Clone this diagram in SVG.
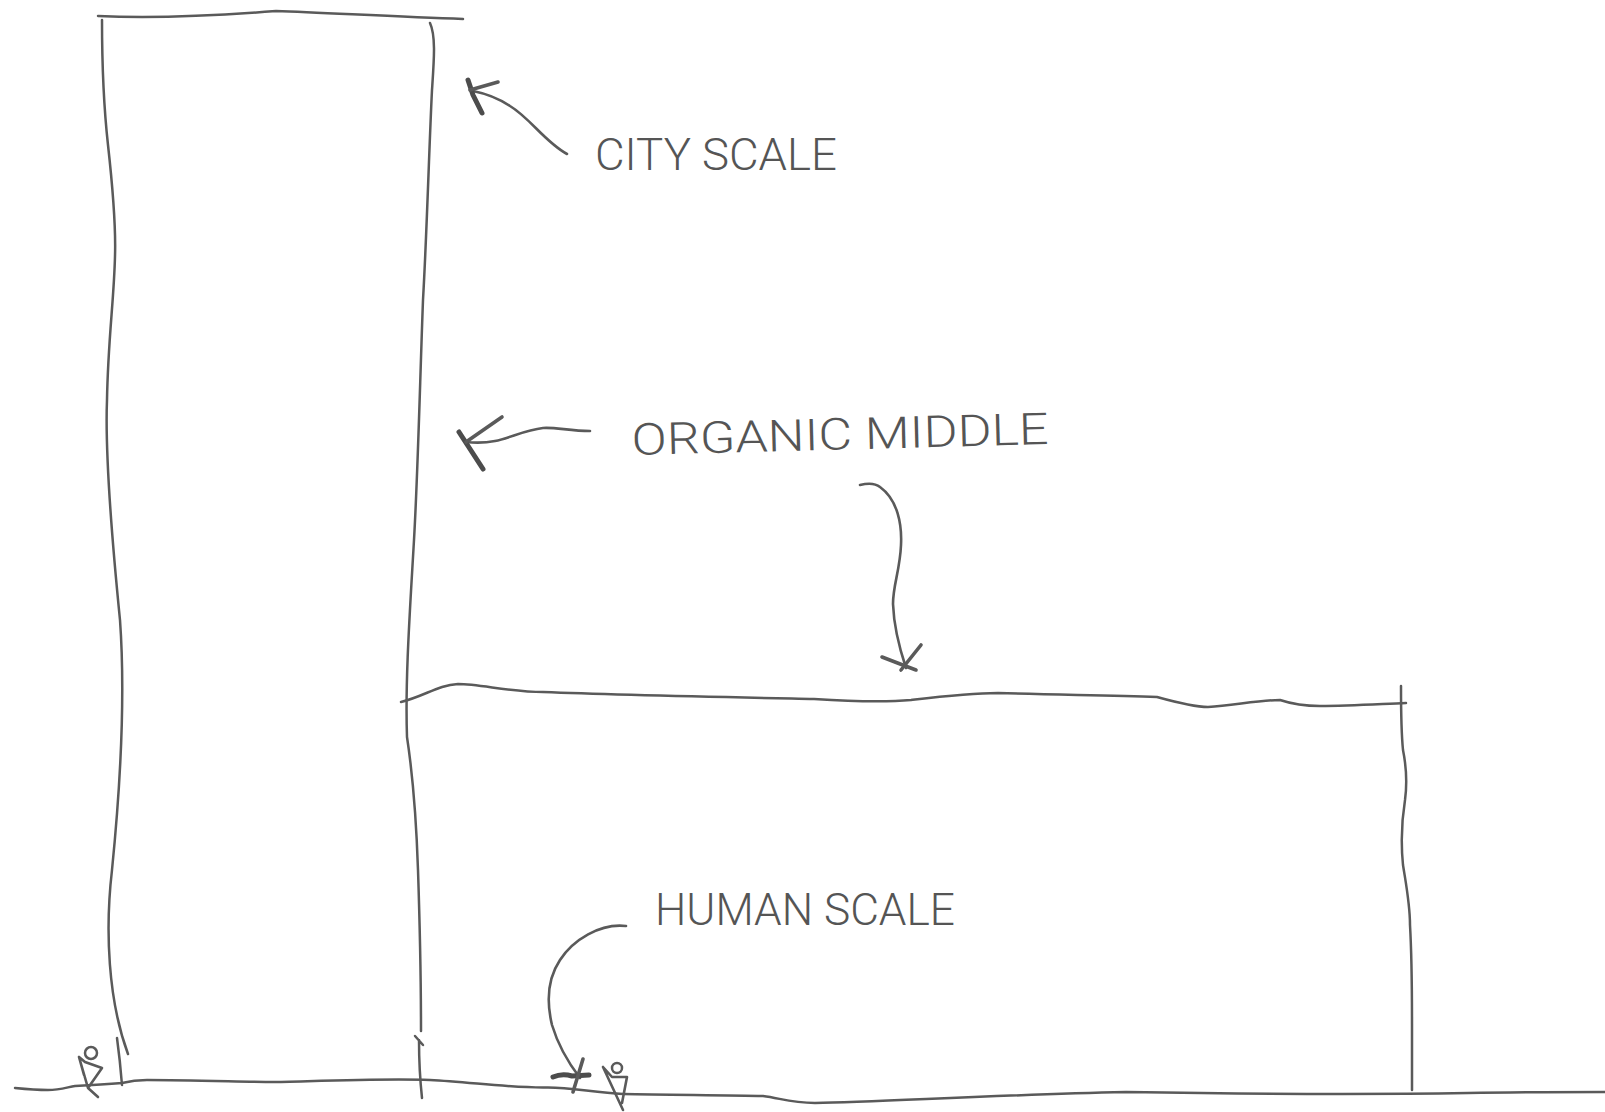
<svg xmlns="http://www.w3.org/2000/svg" width="1605" height="1112" viewBox="0 0 1605 1112">
<style>
.p{fill:none;stroke:#5a5a5a;stroke-width:2.5;stroke-linecap:round;stroke-linejoin:round}
.a{stroke-width:2.6}
.h{stroke-width:5;stroke:#4c4c4c}
.m{stroke-width:3.6}
.t{font-family:"Roboto","Liberation Sans",sans-serif;font-weight:300;font-size:44px;fill:#555}
</style>
<rect width="1605" height="1112" fill="#fff"/>
<g id="tower">
<path class="p" d="M98 16 C140 18 200 17 276 11 C330 13 400 17 463 19"/>
<path class="p" d="M102 20 C102 60 103 100 108 145 C113 190 116 225 115 256 C114 300 108 340 107 400 C105 450 112 540 120 620 C125 690 121 780 112 870 C105 930 108 1000 128 1054"/>
<path class="p" d="M430 23 C436 36 434 60 432 90 C429 150 427 230 423 300 C420 380 418 470 414 540 C410 610 405 680 407 737 C412 770 416 810 418 870 C420 930 421 980 421 1031"/>
<path class="p" d="M117 1038 Q120 1060 122 1085"/>
<path class="p" d="M415 1036 L423 1045 M419 1040 Q419 1070 422 1098"/>
</g>
<g id="podium">
<path class="p" d="M401 702 C425 696 438 685 458 684 C480 684 510 692 543 692 C620 695 720 697 814 699 C860 702 890 702 911 700 C945 696 970 693 998 693 C1060 695 1110 695 1157 697 C1175 702 1195 707 1208 707 C1235 705 1260 700 1280 700 C1295 705 1305 706 1320 706 C1350 706 1380 704 1406 703"/>
<path class="p" d="M1401 686 C1401 710 1401 730 1403 750 C1407 770 1407 785 1405 800 C1401 825 1401 845 1403 865 C1407 890 1410 905 1410 925 C1412 960 1412 1000 1412 1024 L1412 1090"/>
</g>
<g id="ground">
<path class="p" d="M15 1088 C25 1089 38 1090 48 1090 C60 1090 68 1087 75 1086 C95 1085 110 1084 122 1083 C130 1081 138 1080 147 1080 C190 1080 250 1082 273 1082 C295 1082 380 1078 430 1080 C470 1082 510 1088 546 1087.5 C570 1087 595 1093 623 1094 C670 1095 730 1095 763 1096 C780 1098 790 1103 815 1103 C880 1102 990 1095 1126 1092 C1250 1094 1340 1095 1468 1093 C1520 1092 1570 1092 1605 1092"/>
</g>
<g id="person-left">
<circle class="p" cx="91" cy="1053" r="6"/>
<path class="p a" d="M79 1057 L88 1088 L98 1097 M88 1088 L102 1068 L85 1062 L79 1057 L84 1075"/>
</g>
<g id="person-right">
<circle class="p" cx="617" cy="1068" r="5"/>
<path class="p a" d="M603 1067 L623 1110 M603 1067 L612 1077 L627 1077 L622 1103"/>
</g>
<g id="connectors">
<path class="p a" d="M567 154 C545 142 530 118 510 106 C498 98 488 94 473 91"/>
<path class="p h" d="M468 80 L473 95 L482 113"/>
<path class="p m" d="M470 90 L498 82"/>
<path class="p a" d="M590 431 C570 431 555 427 543 428 C525 430 510 438 495 441 C485 443 475 443 466 442"/>
<path class="p h" d="M459 432 L483 469"/>
<path class="p m" d="M466 442 L502 417"/>
<path class="p a" d="M860 485 C868 483 875 483 880 487 C898 500 902 525 901 545 C900 570 893 585 893 604 C894 630 900 650 906 668"/>
<path class="p m" d="M882 657 Q900 664 916 670 M921 645 L901 670"/>
<path class="p a" d="M626 926 C600 923 573 940 560 960 C548 978 546 1000 552 1025 C558 1045 570 1065 580 1078"/>
<path class="p h" d="M553 1077 Q562 1073 572 1076 L589 1075"/>
<path class="p m" d="M583 1059 L573 1092"/>
</g>
<g id="labels">
<text class="t" x="595" y="170" textLength="242" lengthAdjust="spacingAndGlyphs">CITY SCALE</text>
<text class="t" x="632" y="455" textLength="417" lengthAdjust="spacingAndGlyphs" transform="rotate(-1.5 632 455)">ORGANIC MIDDLE</text>
<text class="t" x="655" y="925" textLength="300" lengthAdjust="spacingAndGlyphs">HUMAN SCALE</text>
</g>
</svg>
